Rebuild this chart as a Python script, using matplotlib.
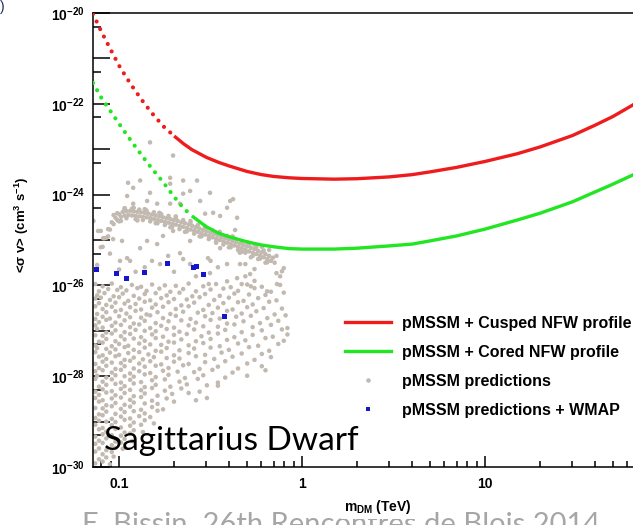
import matplotlib
matplotlib.use("Agg")
import matplotlib.pyplot as plt
from matplotlib.lines import Line2D
from matplotlib.ticker import FixedLocator, FixedFormatter, NullFormatter

plt.rcParams['font.family'] = ['Liberation Sans', 'DejaVu Sans']
plt.rcParams['mathtext.fontset'] = 'custom'
plt.rcParams['mathtext.rm'] = 'Liberation Sans:bold'
plt.rcParams['mathtext.bf'] = 'Liberation Sans:bold'
plt.rcParams['mathtext.it'] = 'Liberation Sans:bold'
plt.rcParams['mathtext.sf'] = 'Liberation Sans:bold'

# ---------------- data ----------------
# limit curves: mass (TeV) and log10 <sigma v> (cm^3 s^-1)
mass_tev = [0.072, 0.08, 0.09, 0.1, 0.11, 0.12, 0.135, 0.15, 0.175, 0.2, 0.225, 0.25, 0.3, 0.35,
            0.4, 0.5, 0.6, 0.7, 0.85, 1, 1.5, 2, 3, 4, 5, 7, 10, 15, 20, 30, 40, 50, 64, 100]
cusped_log_sv = [-20.02, -20.41, -20.81, -21.16, -21.43, -21.66, -21.95, -22.19, -22.50, -22.71,
                 -22.88, -23.01, -23.18, -23.29, -23.37, -23.49, -23.56, -23.60, -23.63, -23.645,
                 -23.66, -23.65, -23.61, -23.56, -23.50, -23.40, -23.27, -23.10, -22.95, -22.70,
                 -22.47, -22.28, -22.03, -21.53]
cored_log_sv = [-21.54, -21.87, -22.17, -22.44, -22.68, -22.89, -23.17, -23.41, -23.74, -24.05,
                -24.30, -24.47, -24.71, -24.85, -24.93, -25.04, -25.11, -25.15, -25.19, -25.20,
                -25.20, -25.18, -25.13, -25.09, -25.02, -24.91, -24.76, -24.56, -24.41, -24.16,
                -23.94, -23.77, -23.57, -23.22]
cusped_dotted_until = 0.2
cored_dotted_until = 0.25

# pMSSM + WMAP points: log10 mass (TeV), log10 <sigma v>
wmap_logm = [-1.126, -1.016, -0.962, -0.863, -0.738, -0.596, -0.579, -0.541, -0.426]
wmap_logsv = [-25.66, -25.73, -25.84, -25.71, -25.51, -25.60, -25.58, -25.77, -26.68]

# pMSSM predictions (log10 mass, log10 <sigma v>)
ridge_upper_logm = [-1.10, -1.08, -1.06, -1.04, -1.02, -1.00, -0.98, -0.96, -0.94, -0.92, -0.90, -0.88,
                    -0.86, -0.84, -0.82, -0.80, -0.78, -0.76, -0.74, -0.72, -0.70, -0.68, -0.66, -0.64,
                    -0.62, -0.60, -0.58, -0.56, -0.54, -0.52, -0.50, -0.48, -0.46, -0.44, -0.42, -0.40,
                    -0.38, -0.36, -0.34, -0.32, -0.30, -0.28, -0.26, -0.24, -0.22, -0.20, -0.18, -0.16]
ridge_upper_logsv = [-25.16, -24.96, -24.76, -24.61, -24.51, -24.43, -24.38, -24.36, -24.36, -24.37, -24.38, -24.39,
                     -24.40, -24.42, -24.44, -24.46, -24.48, -24.50, -24.52, -24.54, -24.56, -24.58, -24.61, -24.63,
                     -24.66, -24.69, -24.72, -24.75, -24.78, -24.81, -24.84, -24.87, -24.90, -24.93, -24.96, -24.99,
                     -25.02, -25.05, -25.08, -25.11, -25.14, -25.17, -25.20, -25.24, -25.27, -25.31, -25.35, -25.39]
ridge_lower_logm = [-1.09, -1.07, -1.05, -1.03, -1.01, -0.99, -0.97, -0.95, -0.93, -0.91, -0.89, -0.87,
                    -0.85, -0.83, -0.81, -0.79, -0.77, -0.75, -0.73, -0.71, -0.69, -0.67, -0.65, -0.63,
                    -0.61, -0.59, -0.57, -0.55, -0.53, -0.51, -0.49, -0.47, -0.45, -0.43, -0.41, -0.39,
                    -0.37, -0.35, -0.33, -0.31, -0.29, -0.27, -0.25, -0.23, -0.21, -0.19, -0.17]
ridge_lower_logsv = [-25.15, -24.95, -24.77, -24.65, -24.56, -24.49, -24.46, -24.45, -24.46, -24.47, -24.48, -24.49,
                     -24.50, -24.52, -24.54, -24.56, -24.58, -24.60, -24.62, -24.64, -24.66, -24.69, -24.71, -24.74,
                     -24.77, -24.79, -24.82, -24.85, -24.88, -24.91, -24.94, -24.97, -25.00, -25.03, -25.06, -25.09,
                     -25.12, -25.15, -25.18, -25.21, -25.25, -25.28, -25.31, -25.34, -25.38, -25.42, -25.46]
ridge_outer_top = [(-1.01, -24.41), (-0.97, -24.31), (-0.93, -24.31), (-0.89, -24.33), (-0.85, -24.35),
                   (-0.81, -24.39), (-0.77, -24.43), (-0.73, -24.47), (-0.69, -24.51), (-0.65, -24.56),
                   (-0.61, -24.62), (-0.57, -24.67), (-0.53, -24.73), (-0.49, -24.79), (-0.45, -24.85),
                   (-0.41, -24.91), (-0.37, -24.97), (-0.33, -25.03), (-0.29, -25.10), (-0.25, -25.16),
                   (-0.21, -25.23)]
ridge_outer_bottom = [(-1.06, -24.92), (-1.00, -24.59), (-0.96, -24.52), (-0.91, -24.54), (-0.87, -24.56),
                      (-0.83, -24.59), (-0.79, -24.63), (-0.75, -24.67), (-0.71, -24.71), (-0.67, -24.76),
                      (-0.63, -24.81), (-0.59, -24.86), (-0.55, -24.92), (-0.51, -24.98), (-0.47, -25.04),
                      (-0.43, -25.10), (-0.39, -25.16), (-0.35, -25.22), (-0.31, -25.28), (-0.27, -25.35),
                      (-0.23, -25.41), (-0.19, -25.49)]
ridge_edges = [(-1.03, -24.45), (-0.97, -24.30), (-0.92, -24.29), (-0.86, -24.32), (-0.78, -24.40),
               (-0.69, -24.48), (-0.61, -24.58), (-0.53, -24.70), (-0.45, -24.82), (-0.38, -24.92),
               (-0.99, -24.58), (-0.90, -24.57), (-0.80, -24.63), (-0.72, -24.72), (-0.64, -24.82),
               (-0.56, -24.92), (-0.47, -25.06), (-0.40, -25.16), (-0.33, -25.26)]
scatter_upper = [(-0.705, -23.14), (-0.831, -22.85), (-0.951, -23.74), (-0.923, -23.85), (-0.885, -23.69),
                 (-0.956, -24.03), (-0.831, -23.96), (-0.721, -23.63), (-0.721, -23.76), (-0.650, -23.69),
                 (-0.612, -23.92), (-0.650, -23.98), (-0.667, -24.20), (-0.721, -24.20), (-0.792, -24.20),
                 (-0.847, -24.14), (-0.923, -24.20), (-0.574, -23.69), (-0.503, -23.96), (-0.557, -24.14),
                 (-0.393, -24.14), (-0.377, -24.10), (-0.410, -24.29), (-0.486, -24.40), (-0.530, -24.42),
                 (-0.355, -24.51), (-0.448, -24.47), (-0.366, -24.78), (-1.14, -24.58), (-1.10, -24.80),
                 (-0.30, -25.05), (-0.26, -25.10), (-0.22, -25.15), (-0.18, -25.22), (-0.14, -25.35),
                 (-0.24, -25.42), (-0.20, -25.50), (-0.15, -25.50), (-0.28, -25.38), (-0.34, -25.28)]
scatter_mid = [(-1.115, -24.80), (-1.087, -24.96), (-1.033, -24.98), (-0.984, -25.02), (-0.956, -25.40),
               (-0.940, -25.46), (-0.995, -25.46), (-0.885, -25.18), (-0.847, -25.02), (-0.792, -25.09),
               (-0.820, -25.46), (-0.776, -25.53), (-0.732, -25.35), (-0.667, -25.29), (-0.650, -25.42),
               (-0.612, -25.53), (-0.514, -25.40), (-0.503, -25.73), (-0.410, -25.91), (-0.339, -25.53),
               (-0.355, -25.84), (-0.284, -25.75), (-0.191, -26.13), (-0.137, -25.97), (-0.612, -25.02),
               (-0.705, -24.80), (-0.760, -24.91), (-0.448, -25.18), (-1.12, -25.55), (-1.05, -25.30),
               (-1.00, -25.65), (-0.91, -25.70), (-0.86, -25.60), (-0.70, -25.70), (-0.58, -25.80),
               (-0.46, -25.60), (-0.26, -25.90), (-0.12, -25.80), (-0.10, -25.62), (-0.50, -25.46),
               (-0.41, -25.53), (-0.31, -25.53), (-0.26, -25.64), (-0.14, -25.73), (-0.11, -25.69),
               (-0.31, -25.80), (-0.51, -25.97), (-0.33, -25.97), (-0.28, -26.02)]
cloud_upper = [
    (-1.13, -25.97), (-1.09, -26.02), (-1.04, -25.96), (-0.99, -26.04), (-0.93, -25.99), (-0.88, -26.03),
    (-0.82, -25.98), (-0.75, -26.00), (-0.69, -26.01), (-0.62, -25.96), (-0.54, -26.02), (-0.47, -25.97),
    (-0.39, -26.04), (-0.30, -25.98), (-0.22, -26.03), (-0.12, -25.99),
    (-1.11, -26.13), (-1.06, -26.08), (-1.01, -26.10), (-0.96, -26.11), (-0.90, -26.06), (-0.85, -26.12),
    (-0.78, -26.07), (-0.72, -26.14), (-0.65, -26.08), (-0.58, -26.13), (-0.50, -26.09), (-0.43, -26.07),
    (-0.35, -26.12), (-0.26, -26.06), (-0.17, -26.14),
    (-1.12, -26.22), (-1.08, -26.17), (-1.03, -26.24), (-0.98, -26.18), (-0.92, -26.23), (-0.86, -26.19),
    (-0.80, -26.17), (-0.74, -26.22), (-0.67, -26.16), (-0.60, -26.24), (-0.53, -26.19), (-0.45, -26.23),
    (-0.37, -26.18), (-0.29, -26.20), (-0.20, -26.21), (-0.10, -26.16),
    (-1.13, -26.29), (-1.10, -26.27), (-1.05, -26.32), (-1.00, -26.26), (-0.95, -26.34), (-0.89, -26.29),
    (-0.83, -26.33), (-0.77, -26.28), (-0.70, -26.30), (-0.63, -26.31), (-0.56, -26.26), (-0.48, -26.32),
    (-0.40, -26.27), (-0.32, -26.34), (-0.24, -26.28), (-0.14, -26.33),
    (-1.11, -26.39), (-1.07, -26.43), (-1.02, -26.38), (-0.97, -26.40), (-0.91, -26.41), (-0.86, -26.36),
    (-0.80, -26.42), (-0.73, -26.37), (-0.66, -26.44), (-0.59, -26.38), (-0.51, -26.43), (-0.43, -26.39),
    (-0.35, -26.37), (-0.27, -26.42), (-0.18, -26.36),
    (-1.13, -26.46), (-1.09, -26.52), (-1.04, -26.47), (-0.99, -26.54), (-0.94, -26.48), (-0.88, -26.53),
    (-0.82, -26.49), (-0.76, -26.47), (-0.69, -26.52), (-0.62, -26.46), (-0.54, -26.54), (-0.46, -26.49),
    (-0.38, -26.53), (-0.30, -26.48), (-0.21, -26.50), (-0.11, -26.51),
    (-1.12, -26.63), (-1.07, -26.59), (-1.02, -26.57), (-0.96, -26.62), (-0.91, -26.56), (-0.85, -26.64),
    (-0.79, -26.59), (-0.72, -26.63), (-0.65, -26.58), (-0.57, -26.60), (-0.49, -26.61), (-0.41, -26.56),
    (-0.33, -26.62), (-0.25, -26.57), (-0.15, -26.64),
    (-1.13, -26.74), (-1.09, -26.69), (-1.05, -26.73), (-1.00, -26.68), (-0.94, -26.70), (-0.88, -26.71),
    (-0.83, -26.66), (-0.76, -26.72), (-0.69, -26.67), (-0.61, -26.74), (-0.53, -26.68), (-0.45, -26.73),
    (-0.36, -26.69), (-0.28, -26.67), (-0.19, -26.72), (-0.09, -26.66),
    (-1.11, -26.81), (-1.07, -26.76), (-1.02, -26.82), (-0.97, -26.77), (-0.92, -26.84), (-0.86, -26.78),
    (-0.80, -26.83), (-0.73, -26.79), (-0.66, -26.77), (-0.58, -26.82), (-0.50, -26.76), (-0.41, -26.84),
    (-0.32, -26.79), (-0.23, -26.83), (-0.13, -26.78),
    (-1.13, -26.88), (-1.09, -26.93), (-1.04, -26.89), (-0.99, -26.87), (-0.94, -26.92), (-0.89, -26.86),
    (-0.83, -26.94), (-0.77, -26.89), (-0.70, -26.93), (-0.62, -26.88), (-0.54, -26.90), (-0.46, -26.91),
    (-0.37, -26.86), (-0.27, -26.92), (-0.17, -26.87), (-0.08, -26.94),
    (-1.12, -26.96), (-1.07, -27.04), (-1.02, -26.99), (-0.97, -27.03), (-0.91, -26.98), (-0.86, -27.00),
    (-0.80, -27.01), (-0.74, -26.96), (-0.67, -27.02), (-0.59, -26.97), (-0.51, -27.04), (-0.42, -26.98),
    (-0.33, -27.03), (-0.22, -26.99), (-0.11, -26.97),
    (-1.13, -27.10), (-1.09, -27.11), (-1.04, -27.06), (-0.99, -27.12), (-0.94, -27.07), (-0.88, -27.14),
    (-0.82, -27.08), (-0.76, -27.13), (-0.70, -27.09), (-0.63, -27.07), (-0.55, -27.12), (-0.46, -27.06),
    (-0.37, -27.14), (-0.27, -27.09), (-0.16, -27.13), (-0.08, -27.08),
    (-1.11, -27.24), (-1.07, -27.18), (-1.02, -27.23), (-0.97, -27.19), (-0.92, -27.17), (-0.86, -27.22),
    (-0.80, -27.16), (-0.73, -27.24), (-0.66, -27.19), (-0.58, -27.23), (-0.50, -27.18), (-0.41, -27.20),
    (-0.31, -27.21), (-0.20, -27.16), (-0.10, -27.22),
    (-1.13, -27.32), (-1.09, -27.26), (-1.04, -27.34), (-1.00, -27.29), (-0.95, -27.33), (-0.89, -27.28),
    (-0.83, -27.30), (-0.77, -27.31), (-0.70, -27.26), (-0.62, -27.32), (-0.54, -27.27), (-0.45, -27.34),
    (-0.35, -27.28), (-0.24, -27.33), (-0.13, -27.29),
    (-1.12, -27.38), (-1.07, -27.40), (-1.02, -27.41), (-0.97, -27.36), (-0.92, -27.42), (-0.86, -27.37),
    (-0.80, -27.44), (-0.74, -27.38), (-0.67, -27.43), (-0.59, -27.39), (-0.50, -27.37), (-0.40, -27.42),
    (-0.29, -27.36), (-0.18, -27.44),
]
cloud_lower = [
    (-1.13, -27.47), (-1.09, -27.54), (-1.05, -27.48), (-1.00, -27.53), (-0.95, -27.49), (-0.89, -27.47),
    (-0.84, -27.52), (-0.77, -27.46), (-0.70, -27.54), (-0.62, -27.49), (-0.53, -27.53), (-0.44, -27.48),
    (-0.33, -27.50), (-0.22, -27.51),
    (-1.11, -27.57), (-1.07, -27.62), (-1.02, -27.56), (-0.97, -27.64), (-0.92, -27.59), (-0.87, -27.63),
    (-0.81, -27.58), (-0.74, -27.60), (-0.67, -27.61), (-0.58, -27.56), (-0.48, -27.62), (-0.38, -27.57),
    (-0.26, -27.64), (-0.17, -27.58),
    (-1.13, -27.73), (-1.09, -27.68), (-1.04, -27.70), (-0.99, -27.71), (-0.94, -27.66), (-0.89, -27.72),
    (-0.83, -27.67), (-0.77, -27.74), (-0.70, -27.68), (-0.62, -27.73), (-0.53, -27.69), (-0.42, -27.67),
    (-0.30, -27.72),
    (-1.11, -27.82), (-1.07, -27.77), (-1.02, -27.84), (-0.97, -27.78), (-0.92, -27.83), (-0.86, -27.79),
    (-0.80, -27.77), (-0.73, -27.82), (-0.65, -27.76), (-0.56, -27.84), (-0.46, -27.79), (-0.35, -27.83),
    (-0.22, -27.78),
    (-1.13, -27.89), (-1.09, -27.87), (-1.04, -27.92), (-0.99, -27.86), (-0.94, -27.94), (-0.89, -27.89),
    (-0.83, -27.93), (-0.76, -27.88), (-0.68, -27.90), (-0.59, -27.91), (-0.49, -27.86), (-0.38, -27.92),
    (-0.20, -27.87),
    (-1.12, -27.99), (-1.07, -28.03), (-1.02, -27.98), (-0.97, -28.00), (-0.92, -28.01), (-0.86, -27.96),
    (-0.80, -28.02), (-0.73, -27.97), (-0.64, -28.04), (-0.54, -27.98), (-0.42, -28.03), (-0.30, -27.99),
    (-1.13, -28.06), (-1.09, -28.12), (-1.04, -28.07), (-0.99, -28.14), (-0.94, -28.08), (-0.88, -28.13),
    (-0.82, -28.09), (-0.75, -28.07), (-0.67, -28.12), (-0.57, -28.06), (-0.46, -28.14),
    (-1.11, -28.23), (-1.07, -28.19), (-1.02, -28.17), (-0.97, -28.22), (-0.92, -28.16), (-0.86, -28.24),
    (-0.80, -28.19), (-0.72, -28.23), (-0.63, -28.18), (-0.52, -28.20), (-0.46, -28.21),
    (-1.13, -28.34), (-1.09, -28.29), (-1.04, -28.33), (-0.99, -28.28), (-0.94, -28.30), (-0.88, -28.31),
    (-0.82, -28.26), (-0.75, -28.32), (-0.66, -28.27), (-0.56, -28.34),
    (-1.11, -28.41), (-1.07, -28.36), (-1.02, -28.42), (-0.97, -28.37), (-0.92, -28.44), (-0.86, -28.38),
    (-0.79, -28.43), (-0.71, -28.39), (-0.62, -28.37),
    (-1.13, -28.48), (-1.09, -28.53), (-1.04, -28.49), (-0.99, -28.47), (-0.94, -28.52), (-0.88, -28.46),
    (-0.82, -28.54), (-0.74, -28.49), (-0.58, -28.53), (-0.52, -28.48),
    (-1.11, -28.56), (-1.07, -28.64), (-1.02, -28.59), (-0.97, -28.63), (-0.92, -28.58), (-0.86, -28.60),
    (-0.79, -28.61), (-0.70, -28.56),
    (-1.13, -28.70), (-1.09, -28.71), (-1.04, -28.66), (-0.99, -28.72), (-0.94, -28.67), (-0.88, -28.74),
    (-0.82, -28.68), (-0.76, -28.73),
    (-1.11, -28.84), (-1.07, -28.78), (-1.02, -28.83), (-0.97, -28.79), (-0.92, -28.77), (-0.86, -28.82),
    (-0.79, -28.76),
    (-1.13, -28.92), (-1.09, -28.86), (-1.04, -28.94), (-0.99, -28.89), (-0.94, -28.93), (-0.89, -28.88),
    (-0.83, -28.90),
    (-1.11, -28.98), (-1.07, -29.00), (-1.02, -29.01), (-0.97, -28.96), (-0.92, -29.02), (-0.86, -28.97),
    (-0.81, -29.04),
    (-1.13, -29.07), (-1.09, -29.14), (-1.04, -29.08), (-0.99, -29.13), (-0.94, -29.09), (-0.88, -29.07),
    (-1.11, -29.17), (-1.07, -29.22), (-1.02, -29.16), (-0.97, -29.24), (-0.92, -29.19), (-0.87, -29.23),
    (-1.13, -29.33), (-1.09, -29.28), (-1.04, -29.30), (-0.99, -29.31), (-0.94, -29.26),
    (-1.11, -29.42), (-1.07, -29.37), (-1.02, -29.44), (-0.97, -29.38), (-0.93, -29.43),
    (-1.13, -29.49), (-1.09, -29.47), (-1.04, -29.52), (-0.99, -29.46),
    (-1.11, -29.59), (-1.07, -29.63), (-1.02, -29.58), (-0.98, -29.60),
    (-1.13, -29.66), (-1.09, -29.72), (-1.04, -29.67),
    (-1.11, -29.83), (-1.07, -29.79), (-1.03, -29.77),
    (-1.13, -29.92), (-1.09, -29.88), (-1.05, -29.94),
]

ytick_exponents = [-30, -29, -28, -27, -26, -25, -24, -23, -22, -21, -20]
xtick_values = [0.1, 1, 10, 100]
xtick_labels = ['0.1', '1', '10', '100']

legend_labels = ['pMSSM + Cusped NFW profile', 'pMSSM + Cored NFW profile',
                 'pMSSM predictions', 'pMSSM predictions + WMAP']

# ---------------- assemble ----------------
pred_logm = ridge_upper_logm + ridge_lower_logm
pred_logsv = ridge_upper_logsv + ridge_lower_logsv
for m, s in (ridge_outer_top + ridge_outer_bottom + ridge_edges + scatter_upper + scatter_mid
             + cloud_upper + cloud_lower):
    pred_logm.append(m)
    pred_logsv.append(s)

RED = '#ee1c1c'
GREEN = '#22e622'
GRAY = '#c2b9b0'
BLUE = '#1515d0'

W, H = 633, 525
fig = plt.figure(figsize=(W / 100, H / 100), dpi=100)
ax = fig.add_axes([93 / W, (H - 467) / H, (668 - 93) / W, (467 - 13) / H])
ax.set_xscale('log')
ax.set_yscale('log')
ax.set_xlim(0.072, 100)
ax.set_ylim(1e-30, 1e-20)

ax.scatter([10 ** v for v in pred_logm], [10 ** v for v in pred_logsv], s=10.5,
           color=GRAY, edgecolors='none', zorder=2)
ax.scatter([10 ** v for v in wmap_logm], [10 ** v for v in wmap_logsv], s=13, marker='s',
           color=BLUE, edgecolors='none', zorder=3)

def draw_curve(log_sv, split, color):
    sv = [10 ** v for v in log_sv]
    k = max(i for i, m in enumerate(mass_tev) if m <= split)
    ax.plot(mass_tev[:k + 1], sv[:k + 1], color=color, lw=3.0,
            linestyle=(0, (0.01, 2.0)), dash_capstyle='round', zorder=4)
    ax.plot(mass_tev[k:], sv[k:], color=color, lw=2.4, solid_capstyle='butt',
            solid_joinstyle='round', zorder=4)

draw_curve(cusped_log_sv, cusped_dotted_until, RED)
draw_curve(cored_log_sv, cored_dotted_until, GREEN)

# axes styling (ROOT-like)
for side in ['left', 'bottom', 'top', 'right']:
    ax.spines[side].set_linewidth(1.1)
ax.yaxis.set_major_locator(FixedLocator([10.0 ** e for e in ytick_exponents]))
ax.yaxis.set_major_formatter(FixedFormatter(
    [r'$10^{%d}$' % e if e % 2 == 0 else '' for e in ytick_exponents]))
ax.yaxis.set_minor_locator(FixedLocator([5 * 10.0 ** e for e in ytick_exponents[:-1]]))
ax.yaxis.set_minor_formatter(NullFormatter())
ax.xaxis.set_major_locator(FixedLocator(xtick_values))
ax.xaxis.set_major_formatter(FixedFormatter(xtick_labels))
minors = [0.08, 0.09] + [k * 0.1 for k in range(2, 10)] + list(range(2, 10)) + [k * 10 for k in range(2, 10)]
ax.xaxis.set_minor_locator(FixedLocator(minors))
ax.xaxis.set_minor_formatter(NullFormatter())
ax.tick_params(axis='y', which='major', direction='in', length=12, width=1.1, pad=6, labelsize=10)
ax.tick_params(axis='y', which='minor', direction='in', length=6, width=1.1)
ax.tick_params(axis='x', which='major', direction='in', length=8, width=1.1, pad=7, labelsize=10)
ax.tick_params(axis='x', which='minor', direction='in', length=4, width=1.1)
for lab in ax.get_xticklabels():
    lab.set_fontweight('bold')

# legend
handles = [Line2D([], [], color=RED, lw=2.4),
           Line2D([], [], color=GREEN, lw=2.4),
           Line2D([], [], ls='', marker='o', markersize=3.3, color=GRAY, markeredgewidth=0),
           Line2D([], [], ls='', marker='s', markersize=3.3, color=BLUE, markeredgewidth=0)]
fig.legend(handles, legend_labels, loc='upper left', bbox_to_anchor=(345 / W, 1 - 316 / H),
           frameon=False, borderpad=0, borderaxespad=0, handlelength=2.9, handletextpad=0.7,
           labelspacing=0.87, prop={'weight': 'bold', 'size': 11.5})

# texts
fig.text(22 / W, 1 - 225 / H, '<σ v> (cm$^{3}$ s$^{-1}$)', rotation=90, ha='center', va='center',
         fontsize=9.5, fontweight='bold')
fig.text(104 / W, 1 - 450 / H, 'Sagittarius Dwarf', fontsize=24, family='Lato',
         ha='left', va='baseline', color='black')
fig.text(82 / W, 1 - 512 / H, 'E. Bissin  26th Rencontres de Blois 2014', fontsize=21,
         family='Lato', ha='left', va='top', color='#a6a6a6')
fig.text(378 / W, 1 - 507 / H, r'm$_{\mathrm{DM}}$ (TeV)', fontsize=10, fontweight='bold',
         ha='center', va='center', bbox=dict(facecolor='white', edgecolor='none', pad=2))
fig.text(0, 1, ')', fontsize=10, ha='left', va='top', color='#1a2a60')

fig.savefig('out.png', dpi=100)
